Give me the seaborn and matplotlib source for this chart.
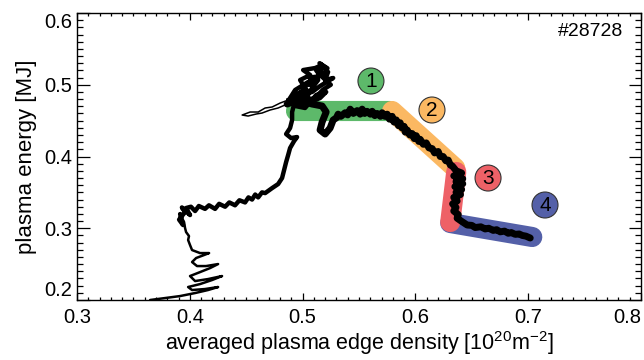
import numpy as np
import pandas as pd
import matplotlib
matplotlib.use("Agg")
import matplotlib.pyplot as plt
from matplotlib.ticker import MultipleLocator
import seaborn as sns

# ---------------- data ----------------
# thin wiggly start near the bottom
bottom_x = [0.3648, 0.378, 0.3914, 0.4047, 0.4162, 0.4251, 0.4135, 0.402, 0.3985, 0.4091,
            0.4197, 0.4286, 0.4162, 0.4047, 0.4002, 0.4091, 0.418, 0.4251, 0.4144, 0.4064,
            0.402, 0.4056, 0.4127, 0.4171, 0.4091, 0.402, 0.4002, 0.3985, 0.3993, 0.3967,
            0.3958, 0.3949, 0.3931, 0.3914]
bottom_y = [0.200, 0.2027, 0.2055, 0.2097, 0.2139, 0.2181, 0.2153, 0.2139, 0.2181, 0.2222,
            0.2278, 0.2334, 0.2292, 0.2264, 0.2334, 0.2389, 0.2445, 0.2501, 0.2473, 0.2473,
            0.2529, 0.2585, 0.2627, 0.2654, 0.2654, 0.2696, 0.2766, 0.2836, 0.2891, 0.2947,
            0.3003, 0.3087, 0.3142, 0.3198]

# rise towards the energy maximum
rise_x = [0.3914, 0.394, 0.3905, 0.3958, 0.3930, 0.4002, 0.3967, 0.4010, 0.4047, 0.4080,
          0.4135, 0.4170, 0.4224, 0.4260, 0.4313, 0.4350, 0.4401, 0.4440, 0.449, 0.4520,
          0.4552, 0.4580, 0.4606, 0.4640, 0.4668, 0.473, 0.4783, 0.4818, 0.4836, 0.4854,
          0.4872, 0.4889, 0.4925, 0.4951, 0.4898, 0.4854, 0.4889, 0.4907, 0.4907, 0.4925,
          0.4951]
rise_y = [0.3198, 0.3045, 0.3120, 0.3226, 0.3290, 0.3184, 0.3282, 0.3300, 0.3240, 0.3310,
          0.3270, 0.3320, 0.3270, 0.3340, 0.3300, 0.3360, 0.3320, 0.3390, 0.3360, 0.3430,
          0.3400, 0.3470, 0.3430, 0.3500, 0.3490, 0.356, 0.3616, 0.370, 0.3811, 0.3923,
          0.4021, 0.4118, 0.4216, 0.4271, 0.4257, 0.4313, 0.4397, 0.4508, 0.462, 0.4731,
          0.4843]

# scattered cluster at the maximum
blob_x = [0.4951, 0.5022, 0.4978, 0.5067, 0.5005, 0.5111, 0.5173, 0.5138, 0.5226, 0.520,
          0.5271, 0.5155, 0.5084, 0.4978, 0.4889, 0.4934, 0.5049, 0.5138, 0.5084, 0.5022,
          0.496, 0.5067, 0.5155, 0.5209, 0.512, 0.5022, 0.4934, 0.4872, 0.4960, 0.5040,
          0.5000, 0.5100, 0.5060, 0.5160, 0.5120, 0.5200, 0.5150, 0.5220, 0.5180, 0.5250,
          0.5180, 0.5100, 0.5000, 0.4900, 0.4872]
blob_y = [0.4843, 0.4955, 0.5066, 0.5136, 0.5205, 0.5233, 0.5275, 0.515, 0.5178, 0.5066,
          0.5094, 0.4982, 0.4899, 0.4857, 0.4815, 0.4927, 0.5038, 0.5066, 0.4955, 0.4787,
          0.4731, 0.4759, 0.4815, 0.4899, 0.4857, 0.4676, 0.4704, 0.4787, 0.4880, 0.4920,
          0.5000, 0.5000, 0.5100, 0.5120, 0.5200, 0.5240, 0.5300, 0.5230, 0.5100, 0.5000,
          0.4930, 0.4800, 0.4820, 0.4750, 0.4787]

# thin excursion to the left
excur_x = [0.4872, 0.4801, 0.473, 0.4668, 0.4606, 0.4535, 0.4464, 0.4517, 0.4588, 0.4641,
           0.4712, 0.4783, 0.4863]
excur_y = [0.4787, 0.4745, 0.469, 0.4676, 0.462, 0.462, 0.4578, 0.4564, 0.4592, 0.4606,
           0.4648, 0.4676, 0.4731]

# main trajectory through phases 1-4
main_x = [0.4863, 0.496, 0.5084, 0.5173, 0.5209, 0.5173, 0.5155, 0.520, 0.5244, 0.5271,
          0.5300, 0.5315, 0.5340, 0.5377, 0.5400, 0.5422, 0.5450, 0.5484, 0.5510, 0.5528,
          0.5550, 0.5572, 0.5600, 0.5617, 0.5640, 0.5661, 0.5690, 0.5705, 0.5730, 0.575,
          0.5770, 0.5794, 0.5810, 0.583, 0.5850, 0.5865, 0.5880, 0.590, 0.5910, 0.5927,
          0.5950, 0.5971, 0.5990, 0.6007, 0.6030, 0.6042, 0.6070, 0.6096, 0.6120, 0.6149,
          0.6170, 0.6202, 0.6220, 0.6246, 0.6270, 0.6291, 0.6310, 0.6326,
          0.6362, 0.6410, 0.6340, 0.6420, 0.6360, 0.6420, 0.6350, 0.6410, 0.6360, 0.6400,
          0.6340, 0.6370, 0.6330, 0.6360, 0.6340, 0.6380, 0.6370, 0.6406, 0.6459,
          0.6500, 0.653, 0.6580, 0.6619, 0.6650, 0.669, 0.6720, 0.6752, 0.6790, 0.6823,
          0.6850, 0.6885, 0.6920, 0.6947, 0.6980, 0.7018]
main_y = [0.4731, 0.4787, 0.4731, 0.4704, 0.462, 0.448, 0.4369, 0.4313, 0.4397, 0.4508,
          0.4540, 0.4590, 0.4560, 0.4610, 0.4580, 0.4660, 0.4600, 0.4640, 0.4590, 0.4660,
          0.4600, 0.4630, 0.4590, 0.4630, 0.4570, 0.4600, 0.4560, 0.4610, 0.4560, 0.4590,
          0.4520, 0.4560, 0.4480, 0.4510, 0.4430, 0.4470, 0.4400, 0.4420, 0.4340, 0.4370,
          0.4300, 0.4320, 0.4250, 0.4290, 0.4210, 0.4240, 0.4170, 0.4190, 0.4120, 0.4110,
          0.4050, 0.4070, 0.4000, 0.4000, 0.3940, 0.3950, 0.3880, 0.3870,
          0.3800, 0.3770, 0.3730, 0.3690, 0.3650, 0.3620, 0.3580, 0.3540, 0.3500, 0.3470,
          0.3430, 0.3380, 0.3340, 0.3290, 0.3240, 0.3190, 0.3140, 0.3100, 0.3045,
          0.3040, 0.3010, 0.3020, 0.2990, 0.3000, 0.2970, 0.2980, 0.2950, 0.2960, 0.2930,
          0.2940, 0.2915, 0.2920, 0.2900, 0.2890, 0.2864]

# phase bands (start, end) and labels
phase_labels = ["1", "2", "3", "4"]
phase_x0 = [0.4943, 0.5794, 0.6362, 0.6309]
phase_y0 = [0.4634, 0.4634, 0.3784, 0.3073]
phase_x1 = [0.5776, 0.6353, 0.6309, 0.7036]
phase_y1 = [0.4634, 0.3839, 0.3087, 0.2878]
phase_colors = ["#5DB96A", "#FBB862", "#EE6167", "#5460A8"]
label_x = [0.5606, 0.6147, 0.6644, 0.7149]
label_y = [0.5052, 0.4648, 0.3700, 0.3324]

shot_label = "#28728"
xlabel = "averaged plasma edge density [10$^{20}$m$^{-2}$]"
ylabel = "plasma energy [MJ]"
xtick_vals = [0.3, 0.4, 0.5, 0.6, 0.7, 0.8]
xtick_text = ["0.3", "0.4", "0.5", "0.6", "0.7", "0.8"]
ytick_vals = [0.2, 0.3, 0.4, 0.5, 0.6]
ytick_text = ["0.2", "0.3", "0.4", "0.5", "0.6"]

# ---------------- plotting ----------------
sns.set_theme(style="ticks")
plt.rcParams["font.family"] = ["Liberation Sans", "DejaVu Sans"]
plt.rcParams["mathtext.fontset"] = "custom"
plt.rcParams["mathtext.rm"] = "Liberation Sans"
plt.rcParams["mathtext.it"] = "Liberation Sans"

fig = plt.figure(figsize=(6.44, 3.60), dpi=100)
ax = fig.add_axes([77/644, 1 - 300/360, (641 - 77)/644, (300 - 13)/360])

# bands: green, orange, blue, red (red on top of its neighbours)
for i in [0, 1, 3, 2]:
    df = pd.DataFrame({"x": [phase_x0[i], phase_x1[i]], "y": [phase_y0[i], phase_y1[i]]})
    sns.lineplot(data=df, x="x", y="y", sort=False, estimator=None, ax=ax,
                 color=phase_colors[i], linewidth=14.5, solid_capstyle="round", zorder=1)

def traj(xs, ys, lw):
    df = pd.DataFrame({"x": xs, "y": ys})
    sns.lineplot(data=df, x="x", y="y", sort=False, estimator=None, ax=ax,
                 color="black", linewidth=lw, solid_joinstyle="round",
                 solid_capstyle="round", zorder=3)

traj(bottom_x, bottom_y, 1.8)
traj(rise_x, rise_y, 3.2)
traj(blob_x, blob_y, 3.2)
traj(excur_x, excur_y, 1.1)
traj(main_x, main_y, 5.0)

# numbered circles
dfl = pd.DataFrame({"x": label_x, "y": label_y, "c": phase_labels})
sns.scatterplot(data=dfl, x="x", y="y", hue="c", palette=phase_colors, s=350,
                edgecolor="#333333", linewidth=0.8, legend=False, ax=ax, zorder=4)
for xx, yy, t in zip(label_x, label_y, phase_labels):
    ax.text(xx, yy - 0.001, t, ha="center", va="center", fontsize=15, color="black", zorder=5)

ax.text(0.968, 0.9355, shot_label, transform=ax.transAxes, ha="right", va="center",
        fontsize=14, color="black")

ax.set_xlim(0.3, 0.8)
ax.set_ylim(0.2, 0.6)
ax.xaxis.set_minor_locator(MultipleLocator(0.01))
ax.yaxis.set_minor_locator(MultipleLocator(0.01))
ax.set_xticks(xtick_vals)
ax.set_xticklabels(xtick_text)
ax.set_yticks(ytick_vals)
ax.set_yticklabels(ytick_text)

for s in ax.spines.values():
    s.set_visible(True)
    s.set_linewidth(1.0)
    s.set_color("black")

ax.tick_params(axis="both", which="both", direction="in", top=True, right=True,
               color="black", width=0.9, labelsize=14.5, labelcolor="black")
ax.tick_params(axis="x", which="major", length=5, pad=6)
ax.tick_params(axis="x", which="minor", length=2.5)
ax.tick_params(axis="y", which="major", length=9, pad=3.5)
ax.tick_params(axis="y", which="minor", length=4.5)

xl = ax.get_xticklabels()
xl[-1].set_ha("right")
yl = ax.get_yticklabels()
yl[0].set_va("bottom")
yl[-1].set_va("top")

ax.set_xlabel(xlabel, fontsize=15.5, color="black", labelpad=1)
ax.set_ylabel(ylabel, fontsize=16, color="black", labelpad=5)

fig.savefig("out.png", dpi=100)
